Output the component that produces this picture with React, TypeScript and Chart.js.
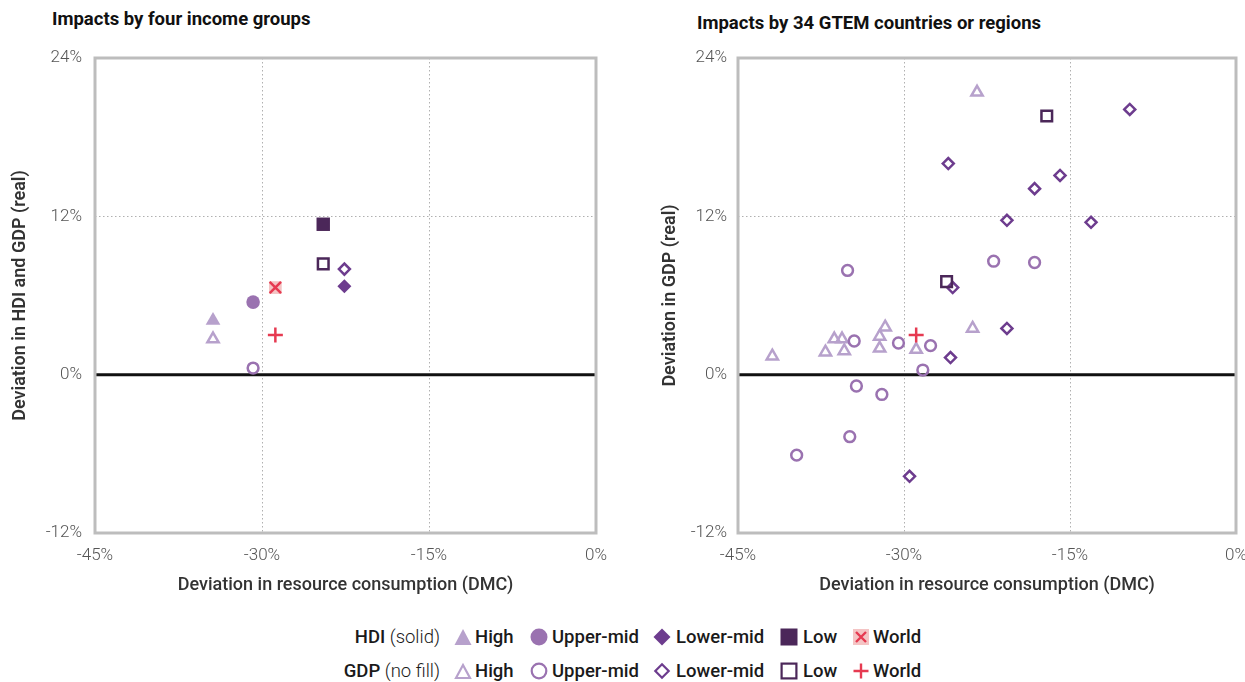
import React, { useEffect, useRef } from 'react';
import { Chart, registerables } from 'chart.js';

Chart.register(...registerables);

// ---------- colours ----------
const C_HIGH = '#b7a1cc';
const C_UPPER = '#9a72b0';
const C_LOWER = '#6d3c8e';
const C_LOW = '#4b2759';
const C_RED = '#e63a51';
const C_PINK = '#f4c4c4';

// ---------- axes ----------
const xTickValues = [-45, -30, -15, 0];
const yTickValues = [-12, 0, 12, 24];

// ---------- left panel: four income groups ----------
const incomeGroups = ['High', 'Upper-mid', 'Lower-mid', 'Low'];
const hdiGroupX = [-34.4, -30.8, -22.6, -24.5];
const hdiGroupY = [4.1, 5.5, 6.7, 11.4];
const gdpGroupX = [-34.4, -30.8, -22.6, -24.5];
const gdpGroupY = [2.7, 0.5, 8.0, 8.4];
const worldHdiX = [-28.8];
const worldHdiY = [6.6];
const worldGdpX = [-28.8];
const worldGdpY = [3.0];

// ---------- right panel: 34 GTEM countries or regions ----------
const highX = [-23.4, -41.9, -37.1, -36.3, -35.6, -35.4, -32.2, -32.2, -31.7, -28.9, -23.8];
const highY = [21.4, 1.4, 1.7, 2.7, 2.7, 1.8, 2.9, 2.0, 3.6, 1.9, 3.5];
const upperX = [-35.1, -34.5, -30.5, -27.6, -28.3, -34.3, -32.0, -34.9, -39.7, -21.9, -18.2];
const upperY = [7.9, 2.55, 2.4, 2.2, 0.35, -0.86, -1.5, -4.7, -6.1, 8.6, 8.5];
const lowerX = [-9.6, -26.0, -15.9, -18.2, -20.7, -13.1, -25.6, -20.7, -25.8, -29.5];
const lowerY = [20.1, 16.0, 15.1, 14.1, 11.7, 11.55, 6.6, 3.5, 1.3, -7.7];
const lowX = [-17.1, -26.15];
const lowY = [19.6, 7.05];
const worldCountryX = [-28.9];
const worldCountryY = [3.0];

const pts = (xs: number[], ys: number[]) => xs.map((x, i) => ({ x, y: ys[i] }));

const NONE = 'rgba(0,0,0,0)';

function ds(label: string, data: any[], style: string, color: string, radius: number, solid: boolean, bw = 2.5, fill?: string) {
  return {
    label,
    data,
    pointStyle: style,
    pointRadius: radius,
    pointBackgroundColor: solid ? (fill || color) : NONE,
    pointBorderColor: solid ? NONE : color,
    pointBorderWidth: solid ? 0 : bw,
    showLine: false,
  };
}

const framePlugin = {
  id: 'framePlugin',
  beforeDatasetsDraw(chart: any) {
    const { ctx, chartArea: a, scales } = chart;
    const x = scales.x;
    const y = scales.y;
    ctx.save();
    // dotted grid lines
    ctx.strokeStyle = '#b0b0b0';
    ctx.lineWidth = 1;
    ctx.setLineDash([1.5, 2.5]);
    xTickValues.slice(1, -1).forEach((v) => {
      const px = Math.round(x.getPixelForValue(v)) + 0.5;
      ctx.beginPath();
      ctx.moveTo(px, a.top);
      ctx.lineTo(px, a.bottom);
      ctx.stroke();
    });
    yTickValues.slice(1, -1).filter((v) => v !== 0).forEach((v) => {
      const py = Math.round(y.getPixelForValue(v)) + 0.5;
      ctx.beginPath();
      ctx.moveTo(a.left, py);
      ctx.lineTo(a.right, py);
      ctx.stroke();
    });
    ctx.setLineDash([]);
    // zero line
    const zy = y.getPixelForValue(0);
    ctx.strokeStyle = '#111111';
    ctx.lineWidth = 3;
    ctx.beginPath();
    ctx.moveTo(a.left, zy);
    ctx.lineTo(a.right, zy);
    ctx.stroke();
    // frame
    ctx.strokeStyle = '#bdbdbd';
    ctx.lineWidth = 3;
    ctx.strokeRect(a.left, a.top, a.right - a.left, a.bottom - a.top);
    ctx.restore();
  },
};

const TICK_FONT = { family: 'Roboto', size: 17, weight: '300' as any };
const TITLE_FONT = { family: 'Roboto', size: 18, weight: '500' as any };

function buildOptions(yTitle: string, yAxisWidth: number, yTitlePad: number, yTickPad: number, padRight: number) {
  return {
    responsive: false,
    animation: false as const,
    events: [] as any[],
    layout: { padding: { top: 58, left: 0, right: padRight, bottom: 0 } },
    plugins: {
      legend: { display: false },
      tooltip: { enabled: false },
      title: { display: false },
    },
    scales: {
      x: {
        type: 'linear' as const,
        min: -45,
        max: 0,
        grid: { display: false, drawTicks: false },
        border: { display: false },
        afterBuildTicks: (s: any) => { s.ticks = xTickValues.map((v) => ({ value: v })); },
        afterFit: (s: any) => { s.height = 77; },
        ticks: {
          font: TICK_FONT,
          color: '#555555',
          padding: 13,
          maxRotation: 0,
          callback: (v: any) => `${v}%`,
        },
        title: {
          display: true,
          text: 'Deviation in resource consumption (DMC)',
          font: TITLE_FONT,
          color: '#333333',
          padding: { top: 0, bottom: 14 },
        },
      },
      y: {
        type: 'linear' as const,
        min: -12,
        max: 24,
        grid: { display: false, drawTicks: false },
        border: { display: false },
        afterBuildTicks: (s: any) => { s.ticks = yTickValues.map((v) => ({ value: v })); },
        afterFit: (s: any) => { s.width = yAxisWidth; },
        ticks: {
          font: TICK_FONT,
          color: '#555555',
          padding: yTickPad,
          callback: (v: any) => `${v}%`,
        },
        title: {
          display: true,
          text: yTitle,
          font: { family: 'Roboto', size: 18, weight: '600' as any },
          color: '#333333',
          padding: { top: yTitlePad, bottom: 0 },
        },
      },
    },
  };
}

function Panel(props: { datasets: any[]; yTitle: string; left: number; width: number; yAxisWidth: number; yTitlePad: number; yTickPad: number; padRight: number }) {
  const ref = useRef<HTMLCanvasElement | null>(null);
  useEffect(() => {
    if (!ref.current) return;
    const chart = new Chart(ref.current, {
      type: 'scatter',
      data: { datasets: props.datasets },
      options: buildOptions(props.yTitle, props.yAxisWidth, props.yTitlePad, props.yTickPad, props.padRight) as any,
      plugins: [framePlugin],
    });
    return () => chart.destroy();
  }, []);
  return (
    <canvas
      ref={ref}
      width={props.width}
      height={610}
      style={{ position: 'absolute', left: props.left, top: 0, width: props.width, height: 610 }}
    />
  );
}

const leftDatasets = [
  ds('World HDI', pts(worldHdiX, worldHdiY), 'crossRot', C_RED, 8, false, 2.5),
  ds('World HDI bg', pts(worldHdiX, worldHdiY), 'rect', C_PINK, 9, true),
  ds('World GDP', pts(worldGdpX, worldGdpY), 'cross', C_RED, 7.5, false, 2.5),
  ds('Low GDP', pts([gdpGroupX[3]], [gdpGroupY[3]]), 'rect', C_LOW, 7.5, false, 2.5),
  ds('Low HDI', pts([hdiGroupX[3]], [hdiGroupY[3]]), 'rect', C_LOW, 9.5, true),
  ds('Lower-mid GDP', pts([gdpGroupX[2]], [gdpGroupY[2]]), 'rectRot', C_LOWER, 5.5, false, 2.5),
  ds('Lower-mid HDI', pts([hdiGroupX[2]], [hdiGroupY[2]]), 'rectRot', C_LOWER, 7, true),
  ds('Upper-mid GDP', pts([gdpGroupX[1]], [gdpGroupY[1]]), 'circle', C_UPPER, 5.4, false, 2.5),
  ds('Upper-mid HDI', pts([hdiGroupX[1]], [hdiGroupY[1]]), 'circle', C_UPPER, 6.8, true),
  ds('High GDP', pts([gdpGroupX[0]], [gdpGroupY[0]]), 'triangle', C_HIGH, 6.5, false, 2.5),
  ds('High HDI', pts([hdiGroupX[0]], [hdiGroupY[0]]), 'triangle', C_HIGH, 8.5, true),
];

const rightDatasets = [
  ds('World GDP', pts(worldCountryX, worldCountryY), 'cross', C_RED, 7.5, false, 2.5),
  ds('Low GDP', pts(lowX, lowY), 'rect', C_LOW, 7.5, false, 2.5),
  ds('Lower-mid GDP', pts(lowerX, lowerY), 'rectRot', C_LOWER, 5.5, false, 2.5),
  ds('Upper-mid GDP', pts(upperX, upperY), 'circle', C_UPPER, 5.4, false, 2.5),
  ds('High GDP', pts(highX, highY), 'triangle', C_HIGH, 6.5, false, 2.5),
];

// ---------- legend ----------
function Marker({ kind, color, solid }: { kind: string; color: string; solid: boolean }) {
  const fill = solid ? color : 'none';
  const stroke = solid ? 'none' : color;
  const sw = 2.2;
  let shape: any = null;
  if (kind === 'triangle') shape = <polygon points={solid ? '0.5,17 9,1 17.5,17' : '2,16 9,3 16,16'} fill={fill} stroke={stroke} strokeWidth={sw} />;
  if (kind === 'circle') shape = <circle cx={9} cy={9} r={solid ? 8.5 : 7.3} fill={fill} stroke={stroke} strokeWidth={sw} />;
  if (kind === 'diamond') shape = <polygon points={solid ? '9,0.5 17.5,9 9,17.5 0.5,9' : '9,2.3 15.7,9 9,15.7 2.3,9'} fill={fill} stroke={stroke} strokeWidth={sw} />;
  if (kind === 'square') shape = solid ? <rect x={0.5} y={0.5} width={17} height={17} fill={fill} /> : <rect x={1.6} y={1.6} width={14.8} height={14.8} fill="none" stroke={stroke} strokeWidth={sw} />;
  if (kind === 'x') shape = (
    <g>
      <rect x={1} y={1} width={16} height={16} fill={C_PINK} />
      <path d="M4,4 L14,14 M14,4 L4,14" stroke={C_RED} strokeWidth={2.4} />
    </g>
  );
  if (kind === 'plus') shape = <path d="M9,1.5 L9,16.5 M1.5,9 L16.5,9" stroke={C_RED} strokeWidth={2.4} />;
  return <svg width={18} height={18} viewBox="0 0 18 18" style={{ display: 'block' }}>{shape}</svg>;
}

const legendKinds = ['triangle', 'circle', 'diamond', 'square'];
const legendColors = [C_HIGH, C_UPPER, C_LOWER, C_LOW];
const legendMarkerLeft = [454, 530, 653, 780, 852];
const legendLabelLeft = [475, 552, 676, 803, 873];

function LegendRow({ top, head, sub, solid }: { top: number; head: string; sub: string; solid: boolean }) {
  const labels = [...incomeGroups, 'World'];
  const kinds = [...legendKinds, solid ? 'x' : 'plus'];
  const colors = [...legendColors, C_RED];
  return (
    <div style={{ position: 'absolute', left: 0, top, width: 1245, height: 24, fontFamily: 'Roboto', fontSize: 18.5, color: '#1a1a1a' }}>
      <div style={{ position: 'absolute', right: 1245 - 440, top: 0, lineHeight: '24px', whiteSpace: 'nowrap' }}>
        <span style={{ fontWeight: 500 }}>{head}</span>
        <span style={{ fontWeight: 300 }}> {sub}</span>
      </div>
      {labels.map((lab, i) => (
        <React.Fragment key={lab}>
          <div style={{ position: 'absolute', left: legendMarkerLeft[i], top: 3 }}>
            <Marker kind={kinds[i]} color={colors[i]} solid={solid} />
          </div>
          <div style={{ position: 'absolute', left: legendLabelLeft[i], top: 0, lineHeight: '24px', fontWeight: 500, whiteSpace: 'nowrap' }}>{lab}</div>
        </React.Fragment>
      ))}
    </div>
  );
}

export default function App() {
  return (
    <div style={{ position: 'absolute', left: 0, top: 0, width: 1245, height: 682, overflow: 'hidden', background: '#ffffff' }}>
      <div style={{ position: 'absolute', left: 52, top: 8, fontFamily: 'Roboto', fontWeight: 700, fontSize: 18.5, color: '#111', whiteSpace: 'nowrap' }}>
        Impacts by four income groups
      </div>
      <div style={{ position: 'absolute', left: 697, top: 12, fontFamily: 'Roboto', fontWeight: 700, fontSize: 18.5, color: '#111', whiteSpace: 'nowrap' }}>
        Impacts by 34 GTEM countries or regions
      </div>
      <Panel datasets={leftDatasets} yTitle="Deviation in HDI and GDP (real)" left={0} width={620} yAxisWidth={95} yTitlePad={10} yTickPad={13} padRight={22} />
      <Panel datasets={rightDatasets} yTitle="Deviation in GDP (real)" left={640} width={620} yAxisWidth={98} yTitlePad={20} yTickPad={11} padRight={20} />
      <LegendRow top={625} head="HDI" sub="(solid)" solid={true} />
      <LegendRow top={659} head="GDP" sub="(no fill)" solid={false} />
    </div>
  );
}
